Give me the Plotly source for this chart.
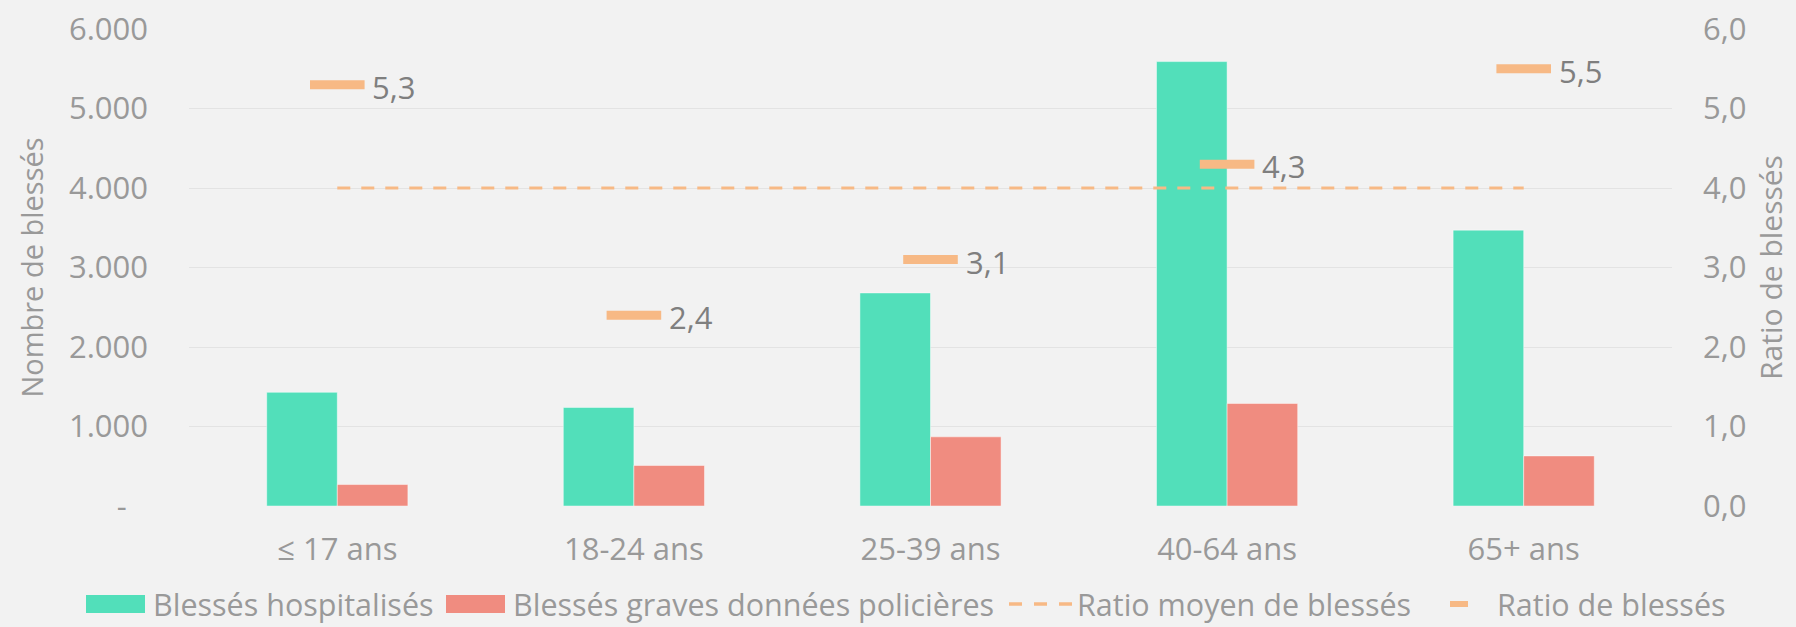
import plotly.graph_objects as go

# ---- data -------------------------------------------------------------
age_groups = ["≤ 17 ans", "18-24 ans", "25-39 ans", "40-64 ans", "65+ ans"]
hospitalises = [1430, 1240, 2680, 5590, 3470]
graves_police = [270, 510, 870, 1290, 630]
ratio_blesses = [5.3, 2.4, 3.1, 4.3, 5.5]
ratio_moyen = 4.0

count_ticks = [0, 1000, 2000, 3000, 4000, 5000, 6000]
count_labels = ["-\u00a0\u00a0\u2009", "1.000", "2.000", "3.000", "4.000", "5.000", "6.000"]
ratio_ticks = [0, 1, 2, 3, 4, 5, 6]
ratio_labels = ["0,0", "1,0", "2,0", "3,0", "4,0", "5,0", "6,0"]

series_names = [
    "Blessés hospitalisés",
    "Blessés graves données policières",
    "Ratio moyen de blessés",
    "Ratio de blessés",
]

# ---- style ------------------------------------------------------------
FONT = "Open Sans"
BG = "#F2F2F2"
GREEN = "#52DFBA"
RED = "#F08C80"
ORANGE = "#F7B985"
AXIS_GREY = "#999999"
VALUE_GREY = "#7F7F7F"

W, H = 1796, 627
M_L, M_R, M_T, M_B = 189, 124, 29, 121
PLOT_W = W - M_L - M_R
PLOT_H = H - M_T - M_B


def px_to_paper(x_px, y_px):
    return (x_px - M_L) / PLOT_W, (H - M_B - y_px) / PLOT_H


fig = go.Figure()

fig.add_trace(go.Bar(
    x=age_groups, y=hospitalises, name=series_names[0],
    marker=dict(color=GREEN, line=dict(color="rgba(255,255,255,0.45)", width=1)),
    showlegend=False,
))
fig.add_trace(go.Bar(
    x=age_groups, y=graves_police, name=series_names[1],
    marker=dict(color=RED, line=dict(color="rgba(255,255,255,0.45)", width=1)),
    showlegend=False,
))
fig.add_trace(go.Scatter(
    x=age_groups, y=[ratio_moyen] * len(age_groups), name=series_names[2],
    yaxis="y2", mode="lines",
    line=dict(color=ORANGE, width=3, dash="13px,11px"),
    showlegend=False,
))
fig.add_trace(go.Scatter(
    x=age_groups, y=ratio_blesses, name=series_names[3],
    yaxis="y2", mode="markers",
    marker=dict(symbol="line-ew", size=39, color=ORANGE,
                line=dict(color=ORANGE, width=9)),
    showlegend=False,
))

# value labels next to the ratio markers
annotations = []
for g, r in zip(age_groups, ratio_blesses):
    annotations.append(dict(
        x=g, y=r, xref="x", yref="y2",
        text=f"{r:.1f}".replace(".", ","),
        showarrow=False, xanchor="left", yanchor="middle",
        xshift=33, yshift=-2,
        font=dict(family=FONT, size=31, color=VALUE_GREY),
    ))

# legend row drawn below the plot
LEG_Y = 604
LEG_FONT = dict(family=FONT, size=30.5, color=AXIS_GREY)
shapes = []

for (x0, x1), color in [((86, 145), GREEN), ((446, 505), RED)]:
    a0, b0 = px_to_paper(x0, LEG_Y - 9)
    a1, b1 = px_to_paper(x1, LEG_Y + 9)
    shapes.append(dict(type="rect", xref="paper", yref="paper",
                       x0=a0, x1=a1, y0=b1, y1=b0,
                       fillcolor=color, line=dict(width=0)))

a0, b0 = px_to_paper(1009, LEG_Y)
a1, _ = px_to_paper(1072, LEG_Y)
shapes.append(dict(type="line", xref="paper", yref="paper",
                   x0=a0, x1=a1, y0=b0, y1=b0,
                   line=dict(color=ORANGE, width=3.5, dash="13px,12px")))

a0, b0 = px_to_paper(1450, LEG_Y - 3)
a1, b1 = px_to_paper(1468, LEG_Y + 3)
shapes.append(dict(type="rect", xref="paper", yref="paper",
                   x0=a0, x1=a1, y0=b1, y1=b0,
                   fillcolor=ORANGE, line=dict(width=0)))

for name, x_text in zip(series_names, [151, 511, 1075, 1495]):
    xp, yp = px_to_paper(x_text, LEG_Y)
    annotations.append(dict(
        x=xp, y=yp, xref="paper", yref="paper", text=name,
        showarrow=False, xanchor="left", yanchor="middle",
        font=LEG_FONT,
    ))

fig.update_layout(
    width=W, height=H,
    margin=dict(l=M_L, r=M_R, t=M_T, b=M_B, pad=0, autoexpand=False),
    paper_bgcolor=BG, plot_bgcolor=BG,
    barmode="group", bargap=0.524, bargroupgap=0,
    font=dict(family=FONT, size=31, color=AXIS_GREY),
    showlegend=False,
    xaxis=dict(
        type="category", showgrid=False, zeroline=False, showline=False,
        ticks="", ticklabelstandoff=22, automargin=False,
        tickfont=dict(family=FONT, size=31, color=AXIS_GREY),
    ),
    yaxis=dict(
        range=[0, 6000], tickvals=count_ticks, ticktext=count_labels,
        showgrid=True, gridcolor="#E3E3E3", gridwidth=1.3,
        zeroline=False, showline=False, ticks="", ticklabelstandoff=40,
        automargin=False,
        tickfont=dict(family=FONT, size=31, color=AXIS_GREY),
        title=dict(text="Nombre de blessés", standoff=16,
                   font=dict(family=FONT, size=29, color=AXIS_GREY)),
    ),
    yaxis2=dict(
        range=[0, 6], tickvals=ratio_ticks, ticktext=ratio_labels,
        overlaying="y", side="right", showgrid=False, zeroline=False,
        showline=False, ticks="", ticklabelstandoff=30, automargin=False,
        tickfont=dict(family=FONT, size=31, color=AXIS_GREY),
        title=dict(text="Ratio de blessés", standoff=15,
                   font=dict(family=FONT, size=30, color=AXIS_GREY)),
    ),
    shapes=shapes,
    annotations=annotations,
)

fig.write_html("out.html")
